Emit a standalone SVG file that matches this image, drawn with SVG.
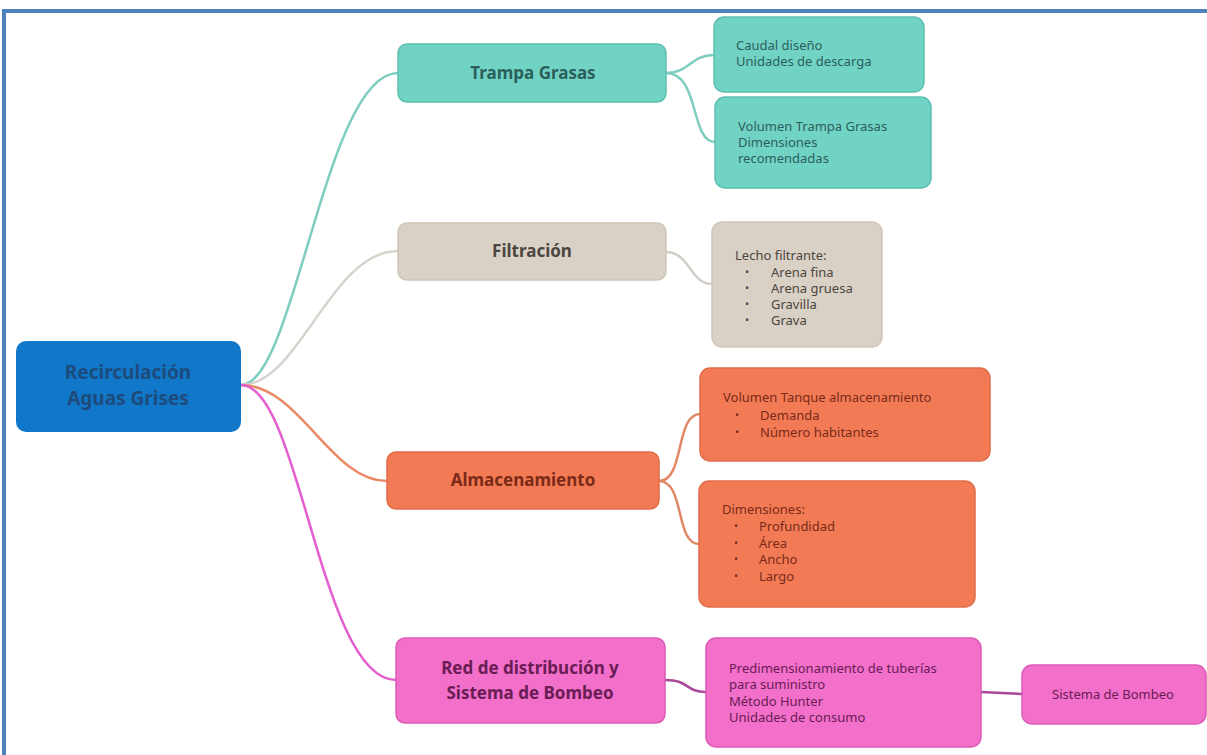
<svg xmlns="http://www.w3.org/2000/svg" width="1207" height="755" viewBox="0 0 1207 755">
<style>
text{font-family:"Noto Sans","Open Sans","Liberation Sans",sans-serif}
.t{font-size:17px;font-weight:bold;text-anchor:middle}
.s{font-size:13px}
.b{font-size:11px}
.teal rect{fill:#71d3c4;stroke:#5fbfb0;stroke-width:1.5}
.teal text{fill:#2b5f5c}
.sand rect{fill:#dad1c6;stroke:#cfc5b9;stroke-width:1.5}
.sand text{fill:#4b463f}
.org rect{fill:#f27b56;stroke:#e26c49;stroke-width:1.5}
.org text{fill:#7a2a16}
.pink rect{fill:#f26fca;stroke:#dc5bb6;stroke-width:1.5}
.pink text{fill:#6a1c54}
.c path{fill:none;stroke-width:2.5}
</style>
<rect width="1207" height="755" fill="#ffffff"/>
<path d="M4 755 V11 H1207" fill="none" stroke="#4f81bd" stroke-width="4"/>
<g class="c" id="connectors">
<path d="M241 385 C295 385 325 73 398 73" stroke="#7fcdbf"/>
<path d="M241 385 C300 385 330 251 398 251" stroke="#d8d4cd"/>
<path d="M241 385 C300 385 330 481 387 481" stroke="#ea8a67"/>
<path d="M241 385 C300 385 320 680 396 680" stroke="#e55ed0"/>
<path d="M666 73 C690 73 690 55 714 55" stroke="#7fcdbf"/>
<path d="M666 73 C700 73 690 142 715 142" stroke="#7fcdbf"/>
<path d="M666 252 C690 252 690 284 712 284" stroke="#d3cfc8"/>
<path d="M659 481 C685 481 675 414 700 414" stroke="#e08866"/>
<path d="M659 481 C685 481 675 544 699 544" stroke="#e08866"/>
<path d="M665 680 C690 680 685 692 706 692" stroke="#a8479a"/>
<path d="M981 692 L1022 694" stroke="#a8479a"/>
</g>
<g id="root">
<rect x="16" y="341" width="225" height="91" rx="10" fill="#1177c9"/>
<text class="t" x="128" y="379" style="font-size:19px" fill="#1d4b7c">Recirculación</text>
<text class="t" x="128" y="405" style="font-size:19px" fill="#1d4b7c">Aguas Grises</text>
</g>
<g id="trampa" class="teal">
<rect x="398" y="44" width="268" height="58" rx="9"/>
<text class="t" x="533" y="79">Trampa Grasas</text>
</g>
<g id="caudal" class="teal">
<rect x="714" y="17" width="210" height="75" rx="10"/>
<text class="s" x="736" y="50">Caudal diseño</text>
<text class="s" x="736" y="66">Unidades de descarga</text>
</g>
<g id="volumen-trampa" class="teal">
<rect x="715" y="97" width="216" height="91" rx="10"/>
<text class="s" x="738" y="131">Volumen Trampa Grasas</text>
<text class="s" x="738" y="147">Dimensiones</text>
<text class="s" x="738" y="163">recomendadas</text>
</g>
<g id="filtracion" class="sand">
<rect x="398" y="223" width="268" height="57" rx="9"/>
<text class="t" x="532" y="257">Filtración</text>
</g>
<g id="lecho" class="sand">
<rect x="712" y="222" width="170" height="125" rx="10"/>
<text class="s" x="735" y="260">Lecho filtrante:</text>
<text class="b" x="745" y="276">•</text><text class="s" x="771" y="277">Arena fina</text>
<text class="b" x="745" y="292">•</text><text class="s" x="771" y="293">Arena gruesa</text>
<text class="b" x="745" y="308">•</text><text class="s" x="771" y="309">Gravilla</text>
<text class="b" x="745" y="324">•</text><text class="s" x="771" y="325">Grava</text>
</g>
<g id="almacenamiento" class="org">
<rect x="387" y="452" width="272" height="57" rx="9"/>
<text class="t" x="523" y="486">Almacenamiento</text>
</g>
<g id="volumen-tanque" class="org">
<rect x="700" y="368" width="290" height="93" rx="10"/>
<text class="s" x="723" y="402">Volumen Tanque almacenamiento</text>
<text class="b" x="735" y="419">•</text><text class="s" x="760" y="420">Demanda</text>
<text class="b" x="735" y="436">•</text><text class="s" x="760" y="437">Número habitantes</text>
</g>
<g id="dimensiones" class="org">
<rect x="699" y="481" width="276" height="126" rx="10"/>
<text class="s" x="722" y="514">Dimensiones:</text>
<text class="b" x="734" y="530">•</text><text class="s" x="759" y="531">Profundidad</text>
<text class="b" x="734" y="547">•</text><text class="s" x="759" y="548">Área</text>
<text class="b" x="734" y="563">•</text><text class="s" x="759" y="564">Ancho</text>
<text class="b" x="734" y="580">•</text><text class="s" x="759" y="581">Largo</text>
</g>
<g id="red" class="pink">
<rect x="396" y="638" width="269" height="85" rx="9"/>
<text class="t" x="530" y="674">Red de distribución y</text>
<text class="t" x="530" y="699">Sistema de Bombeo</text>
</g>
<g id="predimensionamiento" class="pink">
<rect x="706" y="638" width="275" height="109" rx="10"/>
<text class="s" x="729" y="673">Predimensionamiento de tuberías</text>
<text class="s" x="729" y="689">para suministro</text>
<text class="s" x="729" y="706">Método Hunter</text>
<text class="s" x="729" y="722">Unidades de consumo</text>
</g>
<g id="sistema-bombeo" class="pink">
<rect x="1022" y="665" width="184" height="59" rx="10"/>
<text class="s" x="1113" y="699" text-anchor="middle">Sistema de Bombeo</text>
</g>
</svg>
